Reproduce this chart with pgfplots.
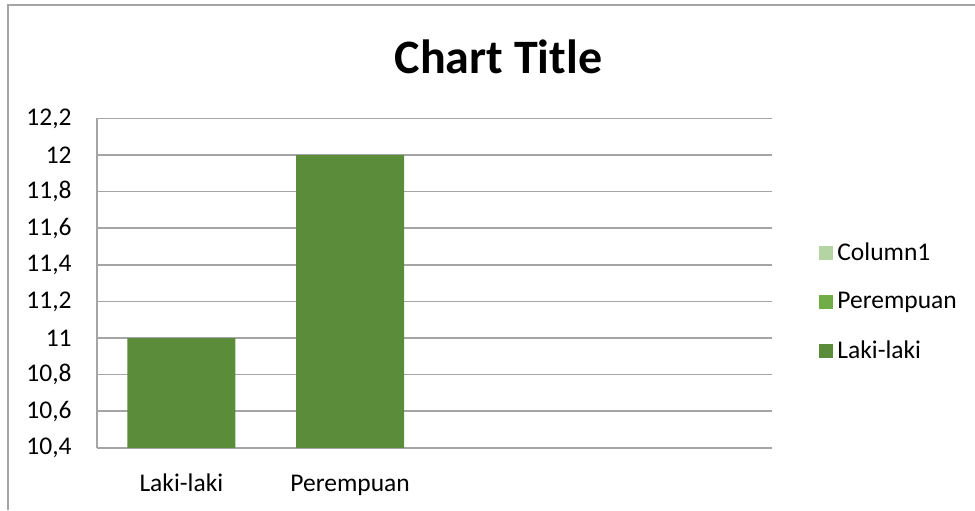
\documentclass[border=0pt]{standalone}
\usepackage{pgfplots}
\pgfplotsset{compat=1.18}
\usepackage{fontspec}
\setmainfont{Carlito}
\definecolor{laki}{RGB}{91,140,58}
\definecolor{perem}{RGB}{112,173,71}
\definecolor{colone}{RGB}{181,212,163}
\definecolor{gridc}{RGB}{165,165,165}
\pgfplotsset{sqlegend/.style={legend image code/.code={\fill[##1] (0pt,-3.5pt) rectangle (7pt,3.5pt);}}}
\begin{document}
\begin{tikzpicture}
\useasboundingbox (0pt,0pt) rectangle (487.5pt,255pt);
\draw[gridc, line width=0.75pt] (4pt,0pt) -- (4pt,252.5pt) -- (487.5pt,252.5pt);
\node[font=\fontsize{24}{28}\selectfont\bfseries, anchor=base] at (249.25pt,218.5pt) {Chart Title};
\begin{axis}[
  at={(48.5pt,31.1pt)}, anchor=south west,
  scale only axis, width=337.5pt, height=164.7pt,
  xmin=-0.5, xmax=3.5, ymin=10.4, ymax=12.2,
  xtick={0,1}, xticklabels={Laki-laki,Perempuan},
  ytick={10.4,10.6,10.8,11,11.2,11.4,11.6,11.8,12,12.2},
  major tick length=0pt,
  tick style={draw=none},
  ymajorgrids, grid style={gridc, line width=0.75pt},
  axis x line*=bottom, axis y line*=left,
  axis line style={-, gridc, line width=0.75pt},
  tick label style={font=\fontsize{12.75}{15}\selectfont},
  yticklabel style={anchor=east, inner sep=0pt, xshift=-12.5pt},
  xticklabel style={anchor=base, inner sep=0pt, yshift=-22pt},
  /pgf/number format/.cd, use comma, assume math mode=true, /pgfplots/.cd,
  legend style={at={(1.0696,0.4426)}, anchor=west, draw=none, fill=none,
    font=\fontsize{12.75}{15}\selectfont, row sep=10.5pt, inner sep=0pt,
    cells={anchor=west}},
]
\addplot[ybar, bar width=0.64, fill=laki, draw=none, forget plot] coordinates {(0,11) (1,12)};
\addlegendimage{sqlegend, fill=colone, draw=none}
\addlegendentry{Column1}
\addlegendimage{sqlegend, fill=perem, draw=none}
\addlegendentry{Perempuan}
\addlegendimage{sqlegend, fill=laki, draw=none}
\addlegendentry{Laki-laki}
\end{axis}
\end{tikzpicture}
\end{document}
